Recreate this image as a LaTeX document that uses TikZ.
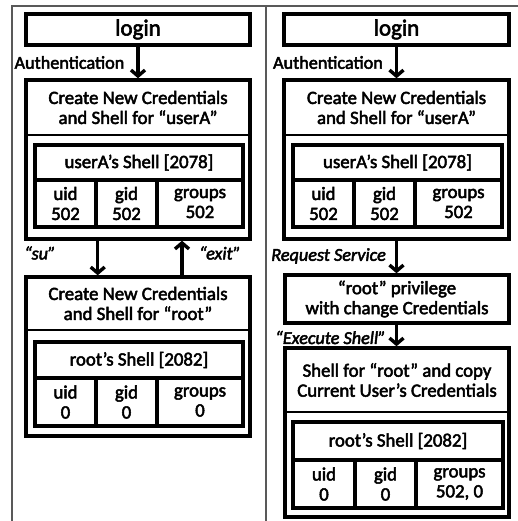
\documentclass[tikz,border=0pt]{standalone}
\usepackage{fontspec}
\setmainfont{Carlito}[FakeBold=2.6]
\usetikzlibrary{arrows.meta,calc}
\newcommand\fs{\fontsize{18.8}{20}\selectfont}
\newcommand\fslbl{\fontsize{18.2}{20}\selectfont}
\newcommand\fsbig{\fontsize{23}{24}\selectfont}
\tikzset{
  frameline/.style={draw=black!65, line width=1.1pt},
  boxx/.style={draw, line width=3.4pt, rectangle, inner sep=0pt, align=center, font=\fs},
  hdr/.style={rectangle, inner sep=0pt, align=center, font=\fs},
  sep/.style={line width=2.2pt},
  lbl/.style={inner sep=0pt, font=\fslbl},
  ilbl/.style={inner sep=0pt, font=\fslbl\itshape},
  arr/.style={line width=3.4pt, -{Straight Barb[length=6pt,width=14pt,line width=3.4pt]}}
}
% \bx[style]{name}{x1}{y1}{x2}{y2}{text}
\newcommand\bx[7][boxx]{%
  \node[#1, minimum width={(#5-#3)*1pt}, minimum height={(#6-#4)*1pt}]
    (#2) at ({(#3+#5)/2},{(#4+#6)/2}) {#7};}
\begin{document}
\begin{tikzpicture}[x=1pt,y=-1pt]
\useasboundingbox (0,0) rectangle (518,521);
% frame
\draw[frameline] (12,521) -- (12,6) -- (518,6);
\draw[frameline] (266,6) -- (266,521);

% ===== left panel =====
\bx[boxx,font=\fsbig]{L}{26}{14}{250}{45}{login}
\bx{A1}{26}{80}{250}{239}{}
\bx[hdr]{A1h}{26}{80}{250}{135}{Create New Credentials\\and Shell for “userA”}
\draw[sep] (A1h.south west) -- (A1h.south east);
\bx{A1s}{35}{145}{243}{227}{}
\bx{A1t}{35}{145}{243}{180}{userA’s Shell [2078]}
\bx{A1c1}{35}{180}{96}{227}{uid\\502}
\bx{A1c2}{96}{180}{157}{227}{gid\\502}
\bx{A1c3}{157}{180}{243}{227}{groups\\502}

\bx{A2}{26}{277}{250}{436}{}
\bx[hdr]{A2h}{26}{277}{250}{330}{Create New Credentials\\and Shell for “root”}
\draw[sep] (A2h.south west) -- (A2h.south east);
\bx{A2s}{35}{342}{243}{426}{}
\bx{A2t}{35}{342}{243}{378}{root’s Shell [2082]}
\bx{A2c1}{35}{378}{96}{426}{uid\\0}
\bx{A2c2}{96}{378}{157}{426}{gid\\0}
\bx{A2c3}{157}{378}{243}{426}{groups\\0}

\draw[arr] (L.south) -- node[lbl, anchor=east, xshift=-12pt] {Authentication} (A1.north);
\coordinate (suT) at (A1c1.east |- A1.south);
\coordinate (suB) at (A1c1.east |- A2.north);
\draw[arr] (suT) -- (suB);
\node[ilbl] (su) at (40,253) {“su”};
\coordinate (exB) at ($(A2.north)+(44,0)$);
\coordinate (exT) at ($(A1.south)+(44,0)$);
\draw[arr] (exB) -- (exT);
\node[ilbl] (ex) at (220,253) {“exit”};

% ===== right panel =====
\bx[boxx,font=\fsbig]{R}{284}{14}{509}{45}{login}
\bx{B1}{284}{80}{509}{239}{}
\bx[hdr]{B1h}{284}{80}{509}{135}{Create New Credentials\\and Shell for “userA”}
\draw[sep] (B1h.south west) -- (B1h.south east);
\bx{B1s}{293}{145}{502}{227}{}
\bx{B1t}{293}{145}{502}{180}{userA’s Shell [2078]}
\bx{B1c1}{293}{180}{354}{227}{uid\\502}
\bx{B1c2}{354}{180}{415}{227}{gid\\502}
\bx{B1c3}{415}{180}{502}{227}{groups\\502}

\bx{P}{285}{275}{509}{323}{“root” privilege\\with change Credentials}

\bx{B3}{285}{348}{509}{517}{}
\bx[hdr]{B3h}{285}{348}{509}{412}{Shell for “root” and copy\\Current User’s Credentials}
\draw[sep] (B3h.south west) -- (B3h.south east);
\bx{B3s}{293}{422}{503}{508}{}
\bx{B3t}{293}{422}{503}{460}{root’s Shell [2082]}
\bx{B3c1}{293}{460}{355}{508}{uid\\0}
\bx{B3c2}{355}{460}{416}{508}{gid\\0}
\bx{B3c3}{416}{460}{503}{508}{groups\\502, 0}

\draw[arr] (R.south) -- node[lbl, anchor=east, xshift=-12pt] {Authentication} (B1.north);
\coordinate (rsT) at (B1.south);
\coordinate (rsB) at (B1.south |- P.north);
\draw[arr] (rsT) -- node[ilbl, anchor=east, xshift=-9pt, yshift=1pt] {Request Service} (rsB);
\coordinate (esT) at (B1.south |- P.south);
\coordinate (esB) at (B1.south |- B3.north);
\draw[arr] (esT) -- node[ilbl, anchor=east, xshift=-9pt, yshift=-2pt] {“Execute Shell”} (esB);
\end{tikzpicture}
\end{document}
